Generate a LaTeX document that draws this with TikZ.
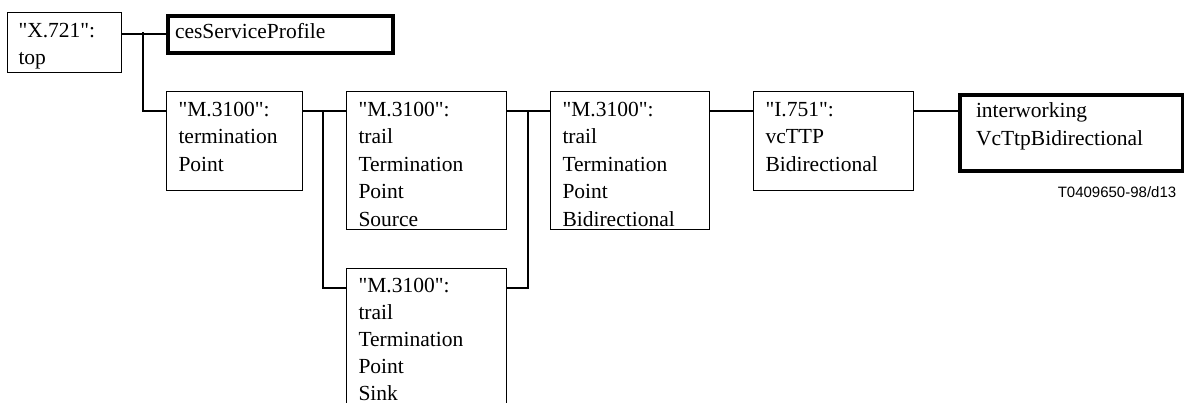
\documentclass[tikz,border=0pt]{standalone}
\usepackage{fontspec}
\setmainfont{Liberation Serif}[Ligatures=TeXOff]
\newfontfamily\labelfont{Liberation Sans}
\tikzset{
  cls/.style={draw, line width=1pt, inner xsep=12pt, inner ysep=0pt, text height=25pt,
    anchor=north west, font=\fontsize{21.5pt}{27.5pt}\selectfont},
  thickcls/.style={cls, line width=4pt, text height=23pt},
  conn/.style={line width=2pt},
}
\newcommand{\bxtext}[2]{\parbox[t]{#1}{#2}}
\begin{document}
\begin{tikzpicture}[x=1pt,y=-1pt]
\useasboundingbox (0,0) rectangle (1184,403);
\clip (0,0) rectangle (1184,403);
\node[cls, inner xsep=11pt, text depth=35pt] (x721) at (7,12) {\bxtext{92pt}{"X.721":\\top}};
\node[thickcls, inner xsep=7pt, text depth=14pt] (ces) at (166,14) {\bxtext{211pt}{cesServiceProfile}};
\node[cls, text depth=74pt] (tp) at (166,91) {\bxtext{112pt}{"M.3100":\\termination\\Point}};
\node[cls, text depth=113pt] (src) at (346,91) {\bxtext{136pt}{"M.3100":\\trail\\Termination\\Point\\Source}};
\node[cls, text height=24pt, text depth=123pt, font=\fontsize{21.5pt}{27pt}\selectfont] (sink) at (346,268) {\bxtext{136pt}{"M.3100":\\trail\\Termination\\Point\\Sink}};
\node[cls, text depth=113pt] (bid) at (550,91) {\bxtext{135pt}{"M.3100":\\trail\\Termination\\Point\\Bidirectional}};
\node[cls, text depth=74pt] (vc) at (753,91) {\bxtext{136pt}{"I.751":\\vcTTP\\Bidirectional}};
\node[thickcls, inner xsep=16pt, text depth=53pt] (iw) at (958,93) {\bxtext{191pt}{interworking\\VcTtpBidirectional}};
\node[font=\labelfont\fontsize{15pt}{18pt}\selectfont, inner sep=0pt] (lbl) at (1117,192) {T0409650-98/d13};
\coordinate (j1) at (143,32.5);
\coordinate (j2) at (323,111);
\coordinate (j3) at (528,111);
\draw[conn] (x721.east |- ces.west) -- (ces.west);
\draw[conn] (j1) |- ([yshift=-20pt]tp.north west);
\draw[conn] ([yshift=-20pt]tp.north east) -- ([yshift=-20pt]src.north west);
\draw[conn] (j2) |- ([yshift=-20pt]sink.north west);
\draw[conn] ([yshift=-20pt]src.north east) -- ([yshift=-20pt]bid.north west);
\draw[conn] (j3) |- ([yshift=-20pt]sink.north east);
\draw[conn] ([yshift=-20pt]bid.north east) -- ([yshift=-20pt]vc.north west);
\draw[conn] ([yshift=-20pt]vc.north east) -- ([yshift=-18pt]iw.north west);
\end{tikzpicture}
\end{document}
